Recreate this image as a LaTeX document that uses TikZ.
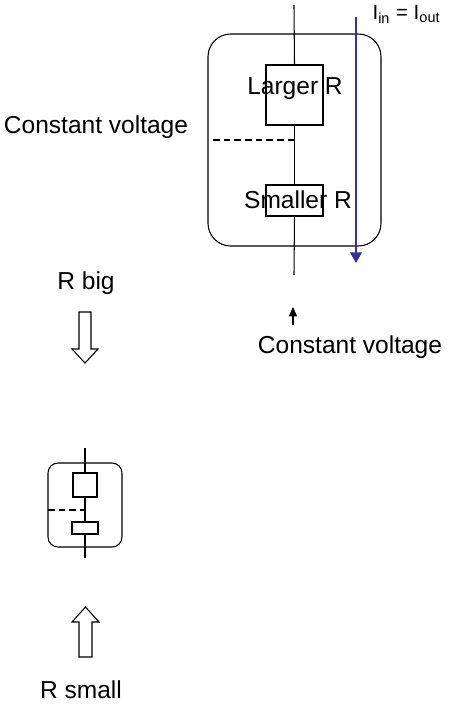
\documentclass[tikz,border=0pt]{standalone}
\usepackage{fontspec}
\setmainfont{Liberation Sans}
\usetikzlibrary{arrows.meta}
\definecolor{curblue}{HTML}{333399}
\begin{document}
\begin{tikzpicture}[x=0.75pt,y=-0.75pt,line width=0.8pt,
  txt/.style={inner sep=0pt,font=\fontsize{18.4}{22}\selectfont},
  rbox/.style={draw,fill=white,inner sep=0pt},
  hollow/.style={draw,fill=white,line width=0.8pt}]
\useasboundingbox (0,0) rectangle (450,719);
% ---- big circuit ----
\draw[rounded corners=17pt] (208,34) rectangle (381,246);
\coordinate (ttop) at (294,5);
\coordinate (tbot) at (294,275);
\node[rbox,minimum width=57*0.75pt,minimum height=60*0.75pt] (bigR) at (294.5,95) {};
\node[rbox,minimum width=57*0.75pt,minimum height=31*0.75pt] (smR) at (294.5,200.5) {};
\draw (ttop) -- (bigR.north);
\draw (bigR.south) -- (smR.north);
\draw (smR.south) -- (tbot);
\coordinate (dashL) at (213,140);
\coordinate (dashR) at (294,140);
\draw[dashed,dash pattern=on 5pt off 3pt] (dashL) -- (dashR);
\node[txt] (tL) at (295,89) {Larger R};
\node[txt] (tS) at (298,200) {Smaller R};
% current arrow
\coordinate (ia) at (356,17);
\coordinate (ib) at (356,263);
\draw[curblue,-{Triangle[width=9pt,length=8pt]}] (ia) -- (ib);
\node[inner sep=0pt,font=\fontsize{15.5}{18}\selectfont,anchor=west] (iio) at (372,14) {I\textsubscript{in} = I\textsubscript{out}};
% constant voltage labels
\node[txt] (cv1) at (96,127) {Constant voltage};
\coordinate (va) at (293,325);
\coordinate (vb) at (293,307);
\draw[-{Triangle[width=6pt,length=7pt]}] (va) -- (vb);
\node[txt] (cv2) at (350,347) {Constant voltage};
% R big + hollow down arrow
\node[txt] (rbig) at (86,283) {R big};
\draw[hollow] (79,312) -- (91,312) -- (91,349) -- (98,349) -- (85,363) -- (72,349) -- (79,349) -- cycle;
% ---- small circuit ----
\draw[rounded corners=7.5pt] (48,463) rectangle (122,547);
\coordinate (stop) at (85,448);
\coordinate (sbot) at (85,558);
\node[rbox,minimum width=24*0.75pt,minimum height=24*0.75pt] (sbR) at (85,485) {};
\node[rbox,minimum width=26*0.75pt,minimum height=12*0.75pt] (ssR) at (85,528) {};
\draw (stop) -- (sbR.north);
\draw (sbR.south) -- (ssR.north);
\draw (ssR.south) -- (sbot);
\coordinate (sdL) at (48,510);
\coordinate (sdR) at (85,510);
\draw[dashed,dash pattern=on 5pt off 3pt] (sdL) -- (sdR);
% hollow up arrow + R small
\draw[hollow] (79,657) -- (92,657) -- (92,622) -- (99,622) -- (85.5,607) -- (72,622) -- (79,622) -- cycle;
\node[txt] (rsmall) at (81,690) {R small};
\end{tikzpicture}
\end{document}
